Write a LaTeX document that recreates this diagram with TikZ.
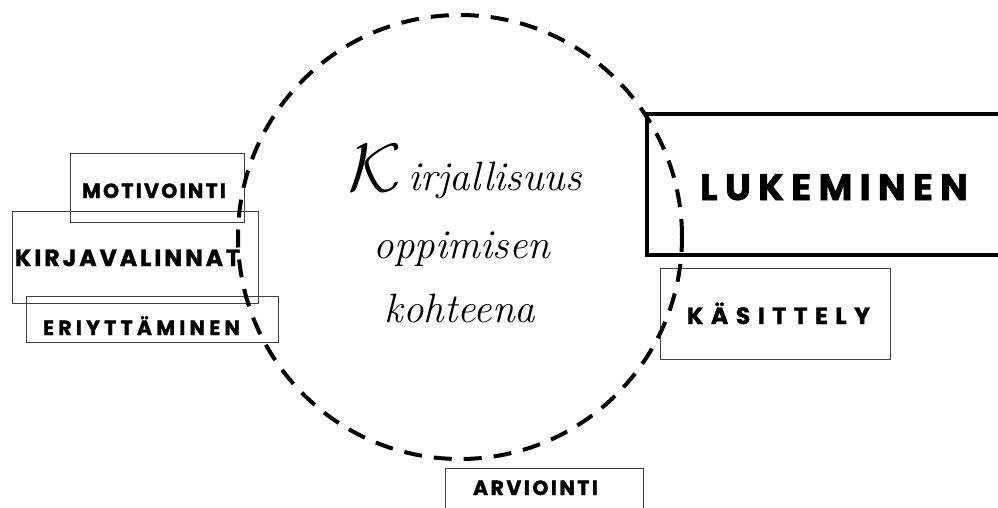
\documentclass[tikz,border=0pt]{standalone}
\usepackage{graphicx}
\usepackage{fontspec}
\newfontfamily\labfont{Poppins}[BoldFeatures={FakeBold=1.5}]
\makeatletter
\newcommand\spreadto[2]{\makebox[#1][s]{\spread@first#2\relax}}
\def\spread@first#1{#1\spread@next}
\def\spread@next#1{\ifx#1\relax\else\hfil#1\expandafter\spread@next\fi}
\makeatother
\tikzset{
  thinbox/.style={draw=black!75, line width=0.9pt, rectangle, inner sep=0pt, anchor=north west},
  thickbox/.style={draw=black, line width=4pt, rectangle, inner sep=0pt, anchor=north west},
  lab/.style={inner sep=0pt, anchor=base},
  script/.style={inner sep=0pt, anchor=base, font=\fontsize{41}{41}\selectfont\itshape},
  ring/.style={draw=black, circle, line width=4pt, dash pattern=on 18pt off 12pt, inner sep=0pt}
}
\begin{document}
\begin{tikzpicture}[x=1pt,y=-1pt]
\clip (0,0) rectangle (998,507);
\fill[white] (0,0) rectangle (998,507);
% boxes
\node[thinbox, minimum width=174pt, minimum height=69pt] (motbox) at (70,153) {};
\node[thinbox, minimum width=246pt, minimum height=92pt] (kirbox) at (12,211) {};
\node[thinbox, minimum width=252pt, minimum height=46pt] (eribox) at (26,296) {};
\node[thickbox, minimum width=380pt, minimum height=141pt] (lukbox) at (645,112) {};
\node[thinbox, minimum width=230pt, minimum height=91pt] (kasbox) at (660,268) {};
\node[thinbox, minimum width=198pt, minimum height=60pt] (arvbox) at (445,468) {};
% circle
\node[ring, minimum size=444pt] (circ) at (460,237) {};
% labels
\node[lab, font=\labfont\bfseries\fontsize{20.5}{20.5}\selectfont] (mot) at (154,198) {\spreadto{144pt}{MOTIVOINTI}};
\node[lab, font=\labfont\bfseries\fontsize{23.5}{23.5}\selectfont] (kir) at (127.5,266) {\spreadto{225pt}{KIRJAVALINNAT}};
\node[lab, font=\labfont\bfseries\fontsize{20.5}{20.5}\selectfont] (eri) at (141.5,335) {\spreadto{197pt}{ERIYTTÄMINEN}};
\node[lab, font=\labfont\bfseries\fontsize{37}{37}\selectfont] (luk) at (834,200) {\spreadto{268pt}{LUKEMINEN}};
\node[lab, font=\labfont\bfseries\fontsize{23.5}{23.5}\selectfont] (kas) at (778.5,324) {\spreadto{183pt}{KÄSITTELY}};
\node[lab, font=\labfont\bfseries\fontsize{20.5}{20.5}\selectfont] (arv) at (535.5,495) {\spreadto{125pt}{ARVIOINTI}};
% central text
\node[script] (t1) at (465,190) {\raisebox{-1pt}{\scalebox{2.75}{$\mathcal{K}$}}\,irjallisuus};
\node[script] (t2) at (462,258) {oppimisen};
\node[script] (t3) at (460,322) {kohteena};
\end{tikzpicture}
\end{document}
